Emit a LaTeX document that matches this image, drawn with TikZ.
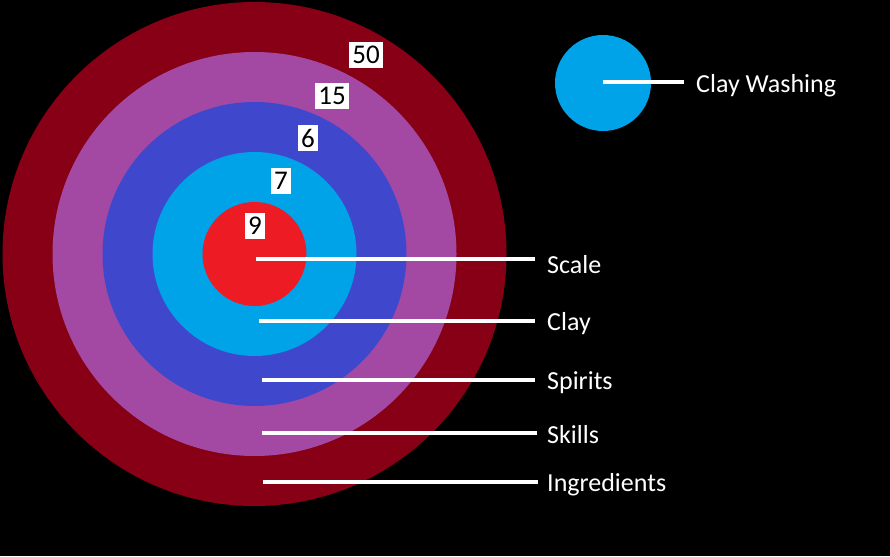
\documentclass[tikz,border=0pt]{standalone}
\usepackage{fontspec}
\setmainfont{Carlito}
\definecolor{cdarkred}{HTML}{880015}
\definecolor{cpurple}{HTML}{A349A4}
\definecolor{cblue}{HTML}{3F48CC}
\definecolor{clight}{HTML}{00A2E8}
\definecolor{cred}{HTML}{ED1C24}
\begin{document}
\begin{tikzpicture}[x=1pt,y=-1pt,
  ring/.style={circle,inner sep=0pt,draw=none},
  numbox/.style={fill=white,text=black,inner xsep=3pt,inner ysep=0pt,minimum height=26pt,font=\fontsize{27}{27}\selectfont},
  lbl/.style={anchor=west,text=white,inner sep=0pt,font=\fontsize{26}{30}\selectfont},
  conn/.style={draw=white,line width=4.5pt}]
\fill[black] (0,0) rectangle (890,556);
\useasboundingbox (0,0) rectangle (890,556);
\node[ring,fill=cdarkred,minimum size=504pt] (ring5) at (254.5,254) {};
\node[ring,fill=cpurple,minimum size=404pt] (ring4) at (254.5,254) {};
\node[ring,fill=cblue,minimum size=304pt] (ring3) at (254.5,254) {};
\node[ring,fill=clight,minimum size=204pt] (ring2) at (254.5,254) {};
\node[ring,fill=cred,minimum size=104pt] (ring1) at (254.5,254) {};
\node[ring,fill=clight,minimum size=96pt] (wash) at (603,83) {};
\node[numbox] (n50) at (366,55) {50};
\node[numbox] (n15) at (332,96) {15};
\node[numbox] (n6) at (308,138) {6};
\node[numbox] (n7) at (281,181) {7};
\node[numbox] (n9) at (255,226) {9};
\node[lbl] (lscale) at (547,265) {Scale};
\node[lbl] (lclay) at (547,324) {Clay};
\node[lbl] (lspirits) at (547,383) {Spirits};
\node[lbl] (lskills) at (547,435) {Skills};
\node[lbl] (ling) at (547,485) {Ingredients};
\node[lbl] (lwash) at (696,86) {Clay Washing};
\coordinate (s1) at (256,259);
\coordinate (s2) at (259,321);
\coordinate (s3) at (262,380);
\coordinate (s4) at (262,433);
\coordinate (s5) at (263,482);
\coordinate (s6) at (603,82);
\coordinate (e1) at (535,259);
\coordinate (e2) at (535,321);
\coordinate (e3) at (535,380);
\coordinate (e4) at (537,433);
\coordinate (e5) at (538,482);
\coordinate (e6) at (684,82);
\draw[conn] (s1) -- (e1);
\draw[conn] (s2) -- (e2);
\draw[conn] (s3) -- (e3);
\draw[conn] (s4) -- (e4);
\draw[conn] (s5) -- (e5);
\draw[conn] (s6) -- (e6);
\end{tikzpicture}
\end{document}
